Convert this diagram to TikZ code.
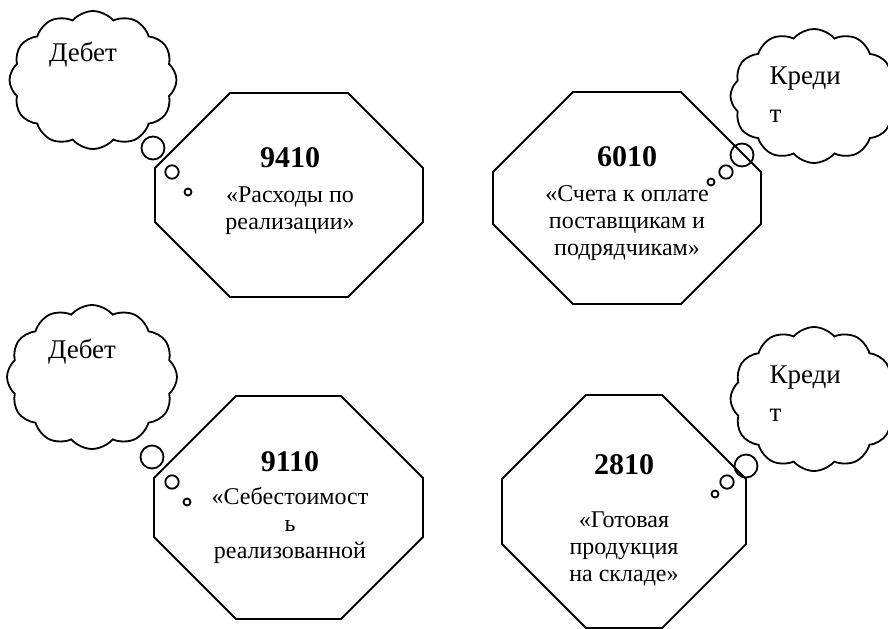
\documentclass[tikz,border=0pt]{standalone}
\usepackage{fontspec}
\setmainfont{Liberation Serif}
\usetikzlibrary{shapes.symbols}
\definecolor{linecol}{HTML}{000000}
\tikzset{
	acct/.style={align=center,font=\fontsize{12}{13.5}\selectfont},
	cloudtext/.style={align=left,font=\fontsize{13.5}{19}\selectfont},
	thought/.style={cloud,draw=linecol,cloud puffs=12,cloud puff arc=100,cloud ignores aspect,inner sep=0pt},
	bubble/.style={circle,draw=linecol,inner sep=0pt}
}
\newcommand{\accnum}[1]{{\fontsize{15}{15}\selectfont\bfseries #1}}

\begin{document}
\begin{tikzpicture}[x=0.5pt,y=-0.5pt,line width=0.9pt]
\path[use as bounding box] (0,0) rectangle (888,628);
\clip (0,0) rectangle (888,628);
% octagons: left/top/right/bottom/corner cut
\foreach \l/\t/\r/\b/\c in {
	155/93/423/297/75,
	493/92/761/304/80,
	154/396/423/619/82,
	502/395/746/628/84%
	}{
	\draw[linecol] (\l+\c,\t) -- (\r-\c,\t) -- (\r,\t+\c) -- (\r,\b-\c) -- (\r-\c,\b)
		-- (\l+\c,\b) -- (\l,\b-\c) -- (\l,\t+\c) -- cycle;
	}
% account texts
\node[acct] (acc1) at (290,191) {\accnum{9410}\\[4pt]«Расходы по\\реализации»};
\node[acct] (acc2) at (627,204) {\accnum{6010}\\[4pt]«Счета к оплате\\поставщикам и\\подрядчикам»};
\node[acct] (acc3) at (290,508) {\accnum{9110}\\[3pt]«Себестоимост\\ь\\реализованной};
\node[acct] (acc4) at (624,520) {\accnum{2810}\\[13pt]«Готовая\\продукция\\на складе»};
% clouds
\node[thought,minimum width=83.5pt,minimum height=69pt] (deb1) at (93,80) {};
\node[thought,minimum width=83.5pt,minimum height=67pt] (cre1) at (814,96) {};
\node[thought,minimum width=85pt,minimum height=72pt] (deb2) at (92,377) {};
\node[thought,minimum width=83.5pt,minimum height=72pt] (cre2) at (814,399) {};
\node[cloudtext] (debt1) at (83,55) {Дебет};
\node[cloudtext] (debt2) at (82,352) {Дебет};
\node[cloudtext,anchor=west] (cret1) at (762,95) {Креди\\т};
\node[cloudtext,anchor=west] (cret2) at (762,394) {Креди\\т};
% thought bubbles
\foreach \x/\y/\d [count=\i] in {
	153/148/11.5, 172/172/6.7, 188/192/3.5,
	742/155/11.5, 726/172/6.7, 711/182/3.5,
	152/457/11.5, 172/482/6.7, 187/502/3.5,
	746/466/11.5, 727/482/6.7, 715/494/3.5%
	}{
	\node[bubble,minimum size=\d pt] (bub\i) at (\x,\y) {};
	}
\end{tikzpicture}
\end{document}
